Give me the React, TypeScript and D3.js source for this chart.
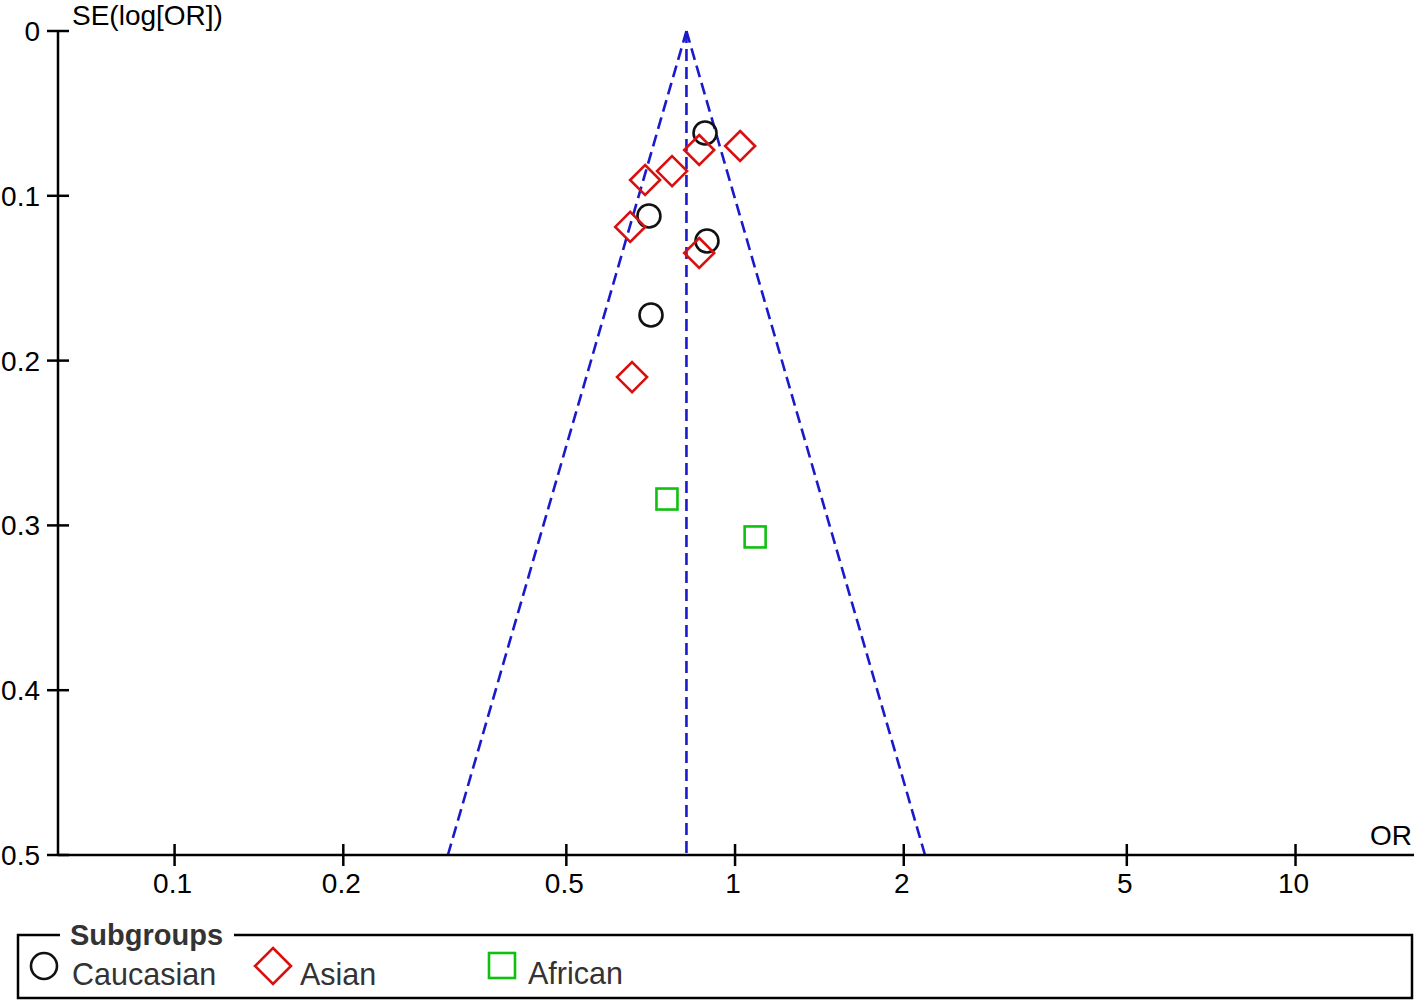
import React from "react";
import * as d3 from "d3";

const caucasianOR = [0.884, 0.702, 0.891, 0.708];
const caucasianSE = [0.0619, 0.1123, 0.1274, 0.1723];
const asianOR = [1.021, 0.863, 0.772, 0.691, 0.65, 0.863, 0.655];
const asianSE = [0.0698, 0.0722, 0.085, 0.0904, 0.1189, 0.1347, 0.21];
const africanOR = [0.756, 1.086];
const africanSE = [0.284, 0.307];
const pooledOR = 0.819;
const xTicks = [0.1, 0.2, 0.5, 1, 2, 5, 10];
const yTicks = [0, 0.1, 0.2, 0.3, 0.4, 0.5];
const subgroups = ["Caucasian", "Asian", "African"];

const W = 1418;
const H = 1005;
const FONT = "'Liberation Sans', Arial, sans-serif";
const BLUE = "#1a1acc";
const RED = "#d91010";
const GREEN = "#10c010";

export default function App() {
  const x = d3.scaleLog().domain([Math.pow(10, -1.208), Math.pow(10, 1.2096)]).range([58, 1413]);
  const y = d3.scaleLinear().domain([0, 0.5]).range([31, 855]);
  const seMax = 0.5;
  const lo = pooledOR * Math.exp(-1.96 * seMax);
  const hi = pooledOR * Math.exp(1.96 * seMax);

  const diamond = (cx: number, cy: number, r: number) =>
    `M${cx},${cy - r}L${cx + r},${cy}L${cx},${cy + r}L${cx - r},${cy}Z`;

  return (
    <svg width={W} height={H} style={{ position: "absolute", left: 0, top: 0, background: "#fff" }}>
      <rect x={0} y={0} width={W} height={H} fill="#fff" />
      {/* funnel */}
      <g stroke={BLUE} strokeWidth={2.6} strokeDasharray="12,6" fill="none">
        <line x1={x(pooledOR)} y1={y(0)} x2={x(pooledOR)} y2={y(seMax)} />
        <line x1={x(pooledOR)} y1={y(0)} x2={x(lo)} y2={y(seMax)} />
        <line x1={x(pooledOR)} y1={y(0)} x2={x(hi)} y2={y(seMax)} />
      </g>
      {/* axes */}
      <g stroke="#000" strokeWidth={2.5}>
        <line x1={58} y1={y(0)} x2={58} y2={y(0.5)} />
        <line x1={58} y1={y(0.5)} x2={1414} y2={y(0.5)} />
        {yTicks.map((t) => (
          <line key={"yt" + t} x1={47} x2={69} y1={y(t)} y2={y(t)} />
        ))}
        {xTicks.map((t) => (
          <line key={"xt" + t} x1={x(t)} x2={x(t)} y1={y(0.5) - 11} y2={y(0.5) + 11} />
        ))}
      </g>
      <g fontFamily={FONT} fontSize={28} fill="#000">
        {yTicks.map((t) => (
          <text key={"yl" + t} x={40} y={y(t) + 10} textAnchor="end">
            {String(t)}
          </text>
        ))}
        {xTicks.map((t) => (
          <text key={"xl" + t} x={x(t) - 2} y={893} textAnchor="middle">
            {String(t)}
          </text>
        ))}
        <text x={72} y={25}>SE(log[OR])</text>
        <text x={1412} y={845} textAnchor="end">OR</text>
      </g>
      {/* points */}
      <g fill="none" strokeWidth={2.6}>
        {caucasianOR.map((v, i) => (
          <circle key={"c" + i} cx={x(v)} cy={y(caucasianSE[i])} r={11.5} stroke="#111" />
        ))}
        {asianOR.map((v, i) => (
          <path key={"a" + i} d={diamond(x(v), y(asianSE[i]), 15)} stroke={RED} />
        ))}
        {africanOR.map((v, i) => (
          <rect key={"f" + i} x={x(v) - 10.5} y={y(africanSE[i]) - 10.5} width={21} height={21} stroke={GREEN} />
        ))}
      </g>
      {/* legend */}
      <rect x={18} y={935} width={1394} height={63} fill="none" stroke="#000" strokeWidth={2.5} />
      <rect x={60} y={920} width={174} height={30} fill="#fff" />
      <text x={70} y={945} fontFamily={FONT} fontSize={29} fontWeight="bold" fill="#333">
        Subgroups
      </text>
      <g fill="none" strokeWidth={2.6}>
        <circle cx={44} cy={966} r={13} stroke="#111" />
        <path d={diamond(273, 966, 18)} stroke={RED} />
        <rect x={489} y={953} width={26} height={25} stroke={GREEN} />
      </g>
      <g fontFamily={FONT} fontSize={30.5} fill="#333">
        <text x={72} y={985}>{subgroups[0]}</text>
        <text x={300} y={985}>{subgroups[1]}</text>
        <text x={528} y={984}>{subgroups[2]}</text>
      </g>
    </svg>
  );
}
